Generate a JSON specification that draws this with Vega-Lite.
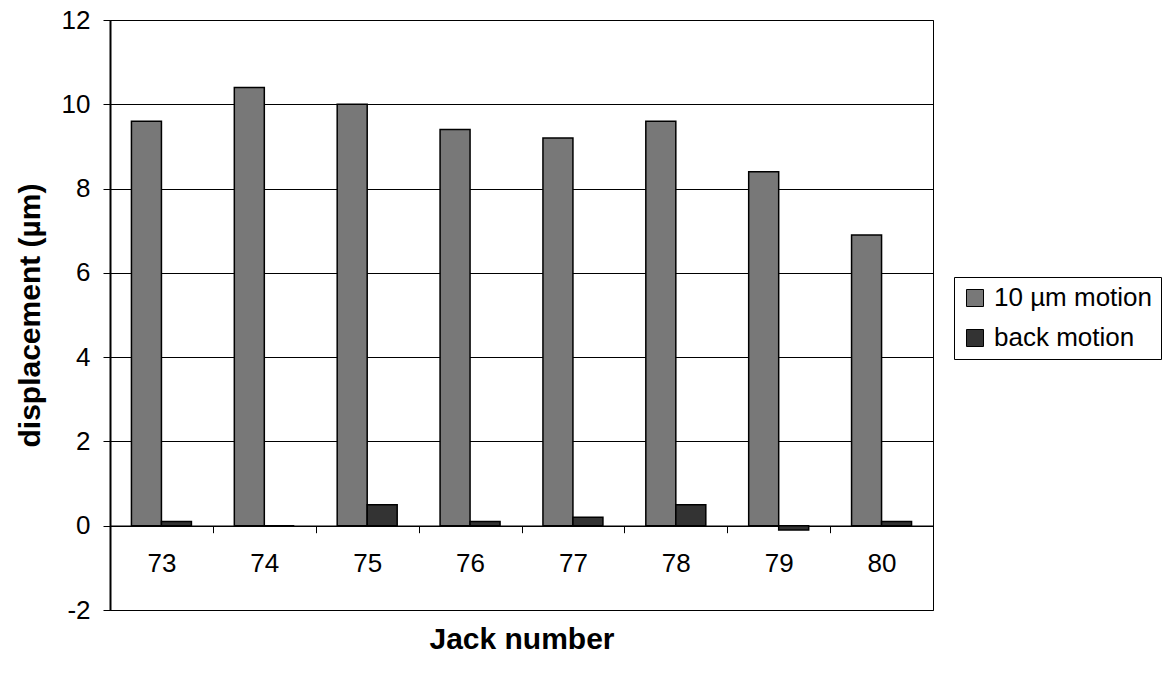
{
  "$schema": "https://vega.github.io/schema/vega-lite/v6.json",
  "width": 823,
  "height": 590,
  "autosize": "none",
  "padding": {"left": 110, "top": 20, "right": 231, "bottom": 65},
  "background": "white",
  "config": {"font": "Liberation Sans", "view": {"stroke": "black", "strokeWidth": 1}},
  "data": {
    "values": [
      {"jack": "73", "series": "10 µm motion", "value": 9.6},
      {"jack": "73", "series": "back motion", "value": 0.1},
      {"jack": "74", "series": "10 µm motion", "value": 10.4},
      {"jack": "74", "series": "back motion", "value": 0.0},
      {"jack": "75", "series": "10 µm motion", "value": 10.0},
      {"jack": "75", "series": "back motion", "value": 0.5},
      {"jack": "76", "series": "10 µm motion", "value": 9.4},
      {"jack": "76", "series": "back motion", "value": 0.1},
      {"jack": "77", "series": "10 µm motion", "value": 9.2},
      {"jack": "77", "series": "back motion", "value": 0.2},
      {"jack": "78", "series": "10 µm motion", "value": 9.6},
      {"jack": "78", "series": "back motion", "value": 0.5},
      {"jack": "79", "series": "10 µm motion", "value": 8.4},
      {"jack": "79", "series": "back motion", "value": -0.1},
      {"jack": "80", "series": "10 µm motion", "value": 6.9},
      {"jack": "80", "series": "back motion", "value": 0.1}
    ]
  },
  "mark": {"type": "bar", "stroke": "black", "strokeWidth": 1.5},
  "encoding": {
    "x": {
      "field": "jack",
      "type": "nominal",
      "scale": {"paddingInner": 0, "paddingOuter": 0},
      "axis": {
        "title": "Jack number",
        "offset": -84.3,
        "tickBand": "extent",
        "labelAngle": 0,
        "labelFontSize": 26,
        "labelColor": "black",
        "labelPadding": 18,
        "tickSize": 7,
        "tickColor": "black",
        "domainColor": "black",
        "domainWidth": 1.5,
        "grid": false,
        "titleFontSize": 30,
        "titleFontWeight": "bold",
        "titleColor": "black",
        "titlePadding": 48
      }
    },
    "xOffset": {"field": "series", "type": "nominal", "scale": {"paddingInner": 0, "paddingOuter": 0.715}},
    "y": {
      "field": "value",
      "type": "quantitative",
      "scale": {"domain": [-2, 12], "nice": false},
      "axis": {
        "title": "displacement (µm)",
        "values": [-2, 0, 2, 4, 6, 8, 10, 12],
        "labelExpr": "datum.value + ''",
        "labelFontSize": 26,
        "labelColor": "black",
        "labelPadding": 13,
        "tickSize": 7,
        "tickColor": "black",
        "domainColor": "black",
        "domainWidth": 2,
        "gridColor": "black",
        "gridWidth": 1,
        "titleFontSize": 30,
        "titleFontWeight": "bold",
        "titleColor": "black",
        "titlePadding": 16
      }
    },
    "color": {
      "field": "series",
      "type": "nominal",
      "scale": {"domain": ["10 µm motion", "back motion"], "range": ["#787878", "#333333"]},
      "legend": {
        "title": null,
        "orient": "none",
        "legendX": 844,
        "legendY": 257,
        "strokeColor": "black",
        "fillColor": "white",
        "padding": 8,
        "labelFontSize": 26,
        "labelColor": "black",
        "symbolType": "square",
        "symbolSize": 289,
        "symbolStrokeColor": "black",
        "symbolStrokeWidth": 1,
        "rowPadding": 14,
        "labelOffset": 6
      }
    }
  }
}
